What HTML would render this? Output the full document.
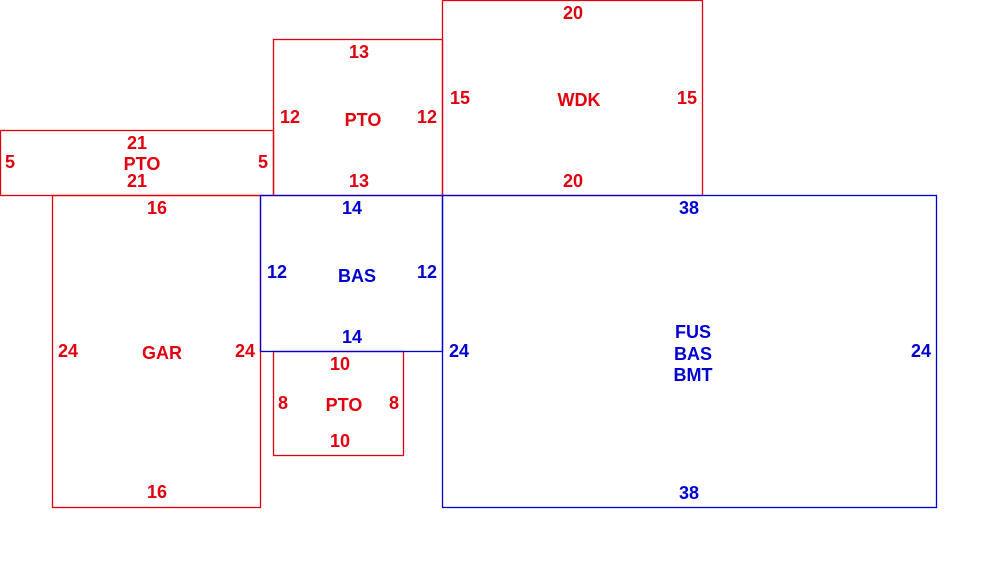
<!DOCTYPE html>
<html><head><style>html,body{margin:0;padding:0;background:#fff;}svg{display:block}
text{font-family:"Liberation Sans",sans-serif;font-weight:bold;font-size:18px;text-anchor:middle;dominant-baseline:central}
.r{fill:#e00010}.b{fill:#0000d0}</style></head><body>
<svg width="1000" height="577" xmlns="http://www.w3.org/2000/svg">
<g fill="none" stroke="#e00010" stroke-width="1.3">
<rect x="0.5" y="130.5" width="273" height="65"/>
<rect x="273.5" y="39.5" width="169" height="156"/>
<rect x="442.5" y="0.5" width="260" height="195"/>
<rect x="52.5" y="195.5" width="208" height="312"/>
<rect x="273.5" y="351.5" width="130" height="104"/>
</g>
<g fill="none" stroke="#0000d0" stroke-width="1.3">
<rect x="260.5" y="195.5" width="182" height="156"/>
<rect x="442.5" y="195.5" width="494" height="312"/>
</g>
<g class="r">
<text x="137" y="143">21</text><text x="142" y="164">PTO</text><text x="137" y="181">21</text><text x="10" y="162">5</text><text x="263" y="162">5</text>
<text x="359" y="52">13</text><text x="290" y="117">12</text><text x="363" y="120">PTO</text><text x="427" y="117">12</text><text x="359" y="181">13</text>
<text x="573" y="13">20</text><text x="460" y="98">15</text><text x="579" y="100">WDK</text><text x="687" y="98">15</text><text x="573" y="181">20</text>
<text x="157" y="208">16</text><text x="68" y="351">24</text><text x="162" y="353">GAR</text><text x="245" y="351">24</text><text x="157" y="492">16</text>
<text x="340" y="364">10</text><text x="283" y="403">8</text><text x="344" y="405">PTO</text><text x="394" y="403">8</text><text x="340" y="441">10</text>
</g>
<g class="b">
<text x="352" y="208">14</text><text x="277" y="272">12</text><text x="357" y="276">BAS</text><text x="427" y="272">12</text><text x="352" y="337">14</text>
<text x="689" y="208">38</text><text x="459" y="351">24</text><text x="693" y="332">FUS</text><text x="693" y="354">BAS</text><text x="693" y="375">BMT</text><text x="921" y="351">24</text><text x="689" y="493">38</text>
</g>
</svg></body></html>
